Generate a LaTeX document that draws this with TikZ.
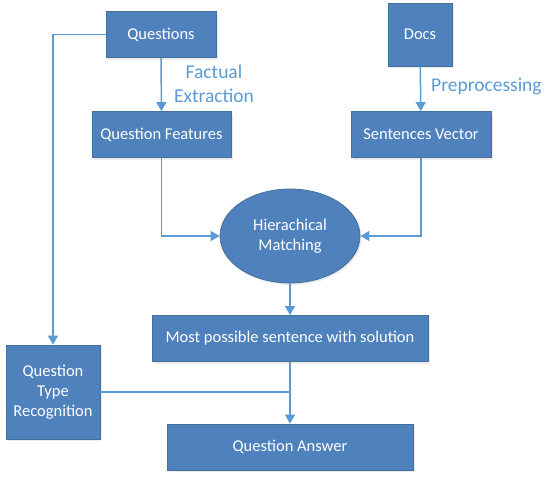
\documentclass[tikz,border=0pt]{standalone}
\usepackage{fontspec}
\setmainfont{Carlito}
\usetikzlibrary{arrows.meta,shapes.geometric,shadows}
\definecolor{bleuboite}{RGB}{79,129,189}
\definecolor{bordboite}{RGB}{65,113,156}
\definecolor{bleutrait}{RGB}{91,155,213}
\tikzstyle{boite}=[draw=bordboite, line width=0.8pt, fill=bleuboite, text=white, inner sep=0, align=center,
  font=\fontsize{16.5}{20}\selectfont,
  drop shadow={opacity=0.15, shadow xshift=1.5pt, shadow yshift=-2pt}]
\tikzstyle{trait}=[bleutrait, line width=1.5pt]
\tikzstyle{fleche}=[trait, -{Triangle[length=9pt,width=10pt]}]
\tikzstyle{etiquette}=[text=bleutrait, inner sep=0, align=center, font=\fontsize{19.5}{24}\selectfont]

\begin{document}
\begin{tikzpicture}[x=1pt,y=-1pt]
\useasboundingbox (0,0) rectangle (555,480);

%boites
\node[boite, minimum width=110pt, minimum height=46pt] (Q) at (161,34.5) {Questions};
\node[boite, minimum width=139pt, minimum height=46pt] (QF) at (161.5,134.5) {Question Features};
\node[boite, minimum width=64pt, minimum height=63pt] (D) at (420,34.5) {Docs};
\node[boite, minimum width=140pt, minimum height=46pt] (SV) at (421,134.5) {Sentences Vector};
\node[boite, ellipse, minimum width=140pt, minimum height=94pt] (HM) at (290,236) {Hierachical\\Matching};
\node[boite, minimum width=276pt, minimum height=46pt] (MP) at (290,338.5) {Most possible sentence with solution};
\node[boite, minimum width=94pt, minimum height=94pt] (QTR) at (53,392) {Question\\Type\\Recognition};
\node[boite, minimum width=246pt, minimum height=46pt] (QA) at (290,447) {Question Answer};

%etiquettes
\node[etiquette] (FE) at (214,84) {Factual\\Extraction};
\node[etiquette, anchor=west] (PP) at (431,86) {Preprocessing};

%fleches
\draw[fleche] (Q) -- (QF);
\draw[fleche] (D) -- (SV);
\draw[fleche] (QF) |- (HM);
\draw[fleche] (SV) |- (HM);
\draw[fleche] (HM) -- (MP);
\draw[fleche] (MP) -- (QA);
\draw[fleche] (Q) -| (QTR);
\draw[trait] (QTR.east) -- (QTR.east -| QA.north);

\end{tikzpicture}
\end{document}
